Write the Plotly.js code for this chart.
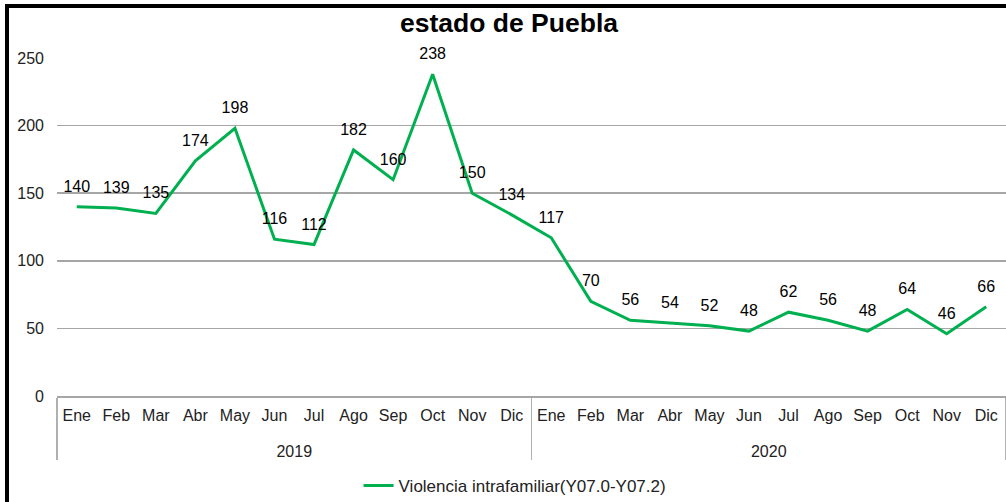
<!DOCTYPE html>
<html>
<head>
<meta charset="utf-8">
<script src="https://cdn.plot.ly/plotly-3.0.1.min.js"></script>
<style>
  html, body { margin: 0; padding: 0; background: #fff; }
  #wrap { position: relative; width: 1006px; height: 502px; overflow: hidden; }
  #chart { width: 1006px; height: 502px; }
  #frame { position: absolute; left: 5px; top: 4px; width: 1010px; height: 510px;
           border-top: 4px solid #000; border-left: 4px solid #000; pointer-events: none; box-sizing: border-box; }
</style>
</head>
<body>
<div id="wrap">
  <div id="chart"></div>
  <div id="frame"></div>
</div>
<script>
const years = ["2019","2019","2019","2019","2019","2019","2019","2019","2019","2019","2019","2019",
               "2020","2020","2020","2020","2020","2020","2020","2020","2020","2020","2020","2020"];
const months = ["Ene","Feb","Mar","Abr","May","Jun","Jul","Ago","Sep","Oct","Nov","Dic",
                "Ene","Feb","Mar","Abr","May","Jun","Jul","Ago","Sep","Oct","Nov","Dic"];
const values = [140,139,135,174,198,116,112,182,160,238,150,134,
                117,70,56,54,52,48,62,56,48,64,46,66];
const seriesName = "Violencia intrafamiliar(Y07.0-Y07.2)";
const chartTitle = "estado de Puebla";
const yTicks = [0,50,100,150,200,250];

// second-level labels pushed one line lower to match the reference spacing
const yearLabels = years.map(y => "<br>" + y);

const trace = {
  type: "scatter",
  mode: "lines+markers+text",
  x: [yearLabels, months],
  y: values,
  text: values.map(String),
  textposition: "top center",
  textfont: { family: "Liberation Sans, Arial, sans-serif", size: 16, color: "#000" },
  line: { color: "#00B050", width: 3 },
  marker: { size: 16, color: "rgba(0,0,0,0)" },
  name: seriesName,
  showlegend: true,
  cliponaxis: false,
  hoverinfo: "x+y"
};

const layout = {
  width: 1006, height: 502,
  margin: { l: 57, r: 0, t: 58, b: 106 },
  paper_bgcolor: "#fff",
  plot_bgcolor: "#fff",
  font: { family: "Liberation Sans, Arial, sans-serif", size: 16, color: "#222" },
  title: {
    text: "<b>" + chartTitle + "</b>",
    font: { family: "Liberation Sans, Arial, sans-serif", size: 26.5, color: "#000" },
    xref: "container", x: 0.506, xanchor: "center",
    yref: "container", y: 0.954, yanchor: "middle"
  },
  xaxis: {
    type: "multicategory",
    range: [-0.5, 23.5],
    automargin: false,
    tickangle: 0,
    showgrid: false,
    showline: true, linecolor: "#a6a6a6", linewidth: 1.5,
    showdividers: true, dividercolor: "#b0b0b0", dividerwidth: 1.5,
    tickfont: { size: 16, color: "#222" },
    ticklabelstandoff: 4,
    ticks: "",
    zeroline: false
  },
  yaxis: {
    range: [0, 250],
    automargin: false,
    tickvals: yTicks,
    ticktext: yTicks.map(String),
    showgrid: true, gridcolor: "#a6a6a6", gridwidth: 1.5,
    zeroline: false,
    showline: false,
    tickfont: { size: 16, color: "#222" },
    ticklabelstandoff: 12,
    fixedrange: true
  },
  showlegend: true,
  legend: {
    orientation: "h",
    xref: "container", x: 0.512, xanchor: "center",
    yref: "container", y: 0.032, yanchor: "middle",
    font: { size: 17, color: "#222" },
    itemwidth: 30
  }
};

Plotly.newPlot("chart", [trace], layout, { displayModeBar: false, staticPlot: true });
</script>
</body>
</html>
